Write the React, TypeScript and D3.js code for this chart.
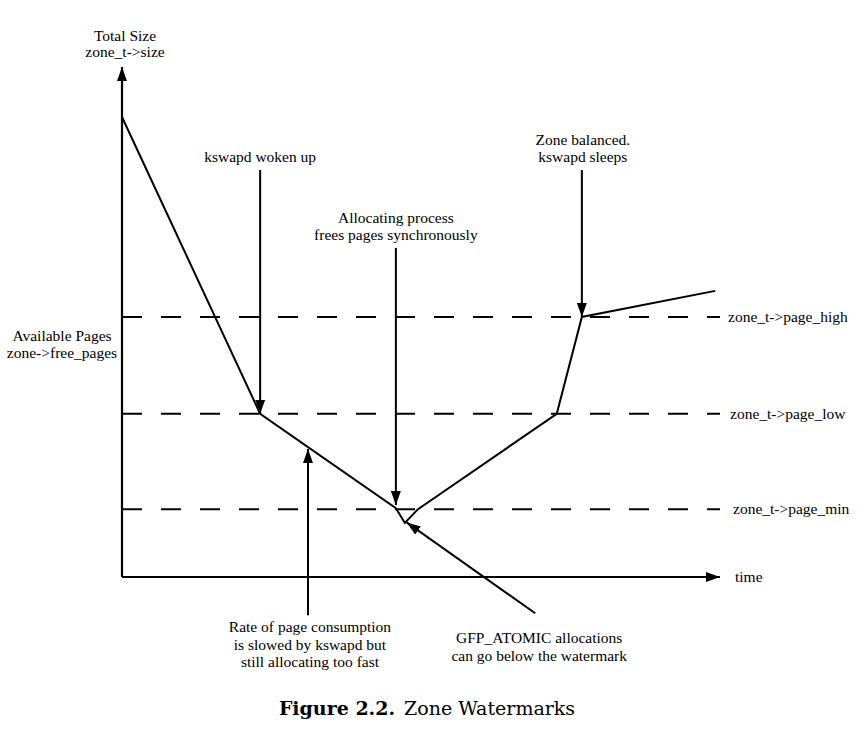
import React from "react";
import * as d3 from "d3";

// time (0..100) vs available pages (0..100, total size ~90)
const curveTime = [0, 23.1, 45.8, 47.3, 49.5, 72.7, 76.9, 99.2];
const curvePages = [90.2, 32, 13.5, 10.6, 13.3, 32, 51, 56.1];

const watermarkNames = ["zone_t->page_high", "zone_t->page_low", "zone_t->page_min"];
const watermarkValues = [51, 32, 13.3];

// annotation arrows: [fromTime, fromPages, toTime, toPages]
const arrowFromTime = [23.1, 45.8, 76.9, 31.1, 69.1];
const arrowFromPages = [79.8, 64.5, 79.8, -7.5, -7.1];
const arrowToTime = [23.1, 45.8, 76.9, 31.1, 47.6];
const arrowToPages = [32, 14.1, 51, 25.1, 10.7];
const arrowLabels = [
  ["kswapd woken up"],
  ["Allocating process", "frees pages synchronously"],
  ["Zone balanced.", "kswapd sleeps"],
  ["Rate of page consumption", "is slowed by kswapd but", "still allocating too fast"],
  ["GFP_ATOMIC allocations", "can go below the watermark"],
];

const yAxisLabel = ["Total Size", "zone_t->size"];
const sideLabel = ["Available Pages", "zone->free_pages"];
const xAxisLabel = "time";
const captionBold = "Figure 2.2.";
const captionText = "Zone Watermarks";

const W = 858;
const H = 733;
const FONT = "'Liberation Serif', 'Times New Roman', serif";

export default function App() {
  const x = d3.scaleLinear().domain([0, 100]).range([122, 720]);
  const y = d3.scaleLinear().domain([0, 100]).range([577, 67]);

  const pts: [number, number][] = curveTime.map((t, i) => [t, curvePages[i]]);
  const line = d3
    .line<[number, number]>()
    .x((d) => x(d[0]))
    .y((d) => y(d[1]));

  const fs = 15.5;
  const lh = 17.5;

  const labelPos = (i: number) => {
    const fx = x(arrowFromTime[i]);
    const fy = y(arrowFromPages[i]);
    const n = arrowLabels[i].length;
    if (i === 3) return { cx: fx + 2, by: fy + 17 };
    if (i === 4) return { cx: fx + 4, by: fy + 30 };
    return { cx: fx + (i === 2 ? 1 : 0), by: fy - 8 - (n - 1) * lh };
  };

  return (
    <svg width={W} height={H} style={{ display: "block", position: "absolute", left: 0, top: 0, background: "#fff" }}>
      <defs>
        <marker
          id="ah"
          markerUnits="userSpaceOnUse"
          viewBox="0 0 14 10"
          refX={14}
          refY={5}
          markerWidth={14}
          markerHeight={10}
          orient="auto"
        >
          <path d="M0,0 L14,5 L0,10 Z" fill="#000" />
        </marker>
      </defs>
      <rect width={W} height={H} fill="#fff" />

      {/* axes */}
      <line x1={x(0)} y1={y(0)} x2={x(0)} y2={y(100)} stroke="#000" strokeWidth={2.2} markerEnd="url(#ah)" />
      <line x1={x(0)} y1={y(0)} x2={x(100)} y2={y(0)} stroke="#000" strokeWidth={2.2} markerEnd="url(#ah)" />

      {/* watermarks */}
      {watermarkValues.map((v, i) => (
        <g key={i}>
          <line
            x1={x(0)}
            x2={x(100)}
            y1={y(v)}
            y2={y(v)}
            stroke="#000"
            strokeWidth={2}
            strokeDasharray="20 19"
          />
          <text
            x={x(100) + 8 + (i === 2 ? 5 : i === 1 ? 2 : 0)}
            y={y(v) + 5}
            fontFamily={FONT}
            fontSize={fs}
          >
            {watermarkNames[i]}
          </text>
        </g>
      ))}

      {/* curve */}
      <path d={line(pts) || ""} fill="none" stroke="#000" strokeWidth={2} strokeLinejoin="miter" />

      {/* annotation arrows */}
      {arrowLabels.map((lines, i) => {
        const p = labelPos(i);
        return (
          <g key={i}>
            <line
              x1={x(arrowFromTime[i])}
              y1={y(arrowFromPages[i])}
              x2={x(arrowToTime[i])}
              y2={y(arrowToPages[i])}
              stroke="#000"
              strokeWidth={2}
              markerEnd="url(#ah)"
            />
            <text fontFamily={FONT} fontSize={fs} textAnchor="middle">
              {lines.map((s, j) => (
                <tspan key={j} x={p.cx} y={p.by + j * lh}>
                  {s}
                </tspan>
              ))}
            </text>
          </g>
        );
      })}

      {/* axis labels */}
      <text fontFamily={FONT} fontSize={fs} textAnchor="middle">
        {yAxisLabel.map((s, j) => (
          <tspan key={j} x={x(0) + 3} y={41 + j * 16}>
            {s}
          </tspan>
        ))}
      </text>
      <text fontFamily={FONT} fontSize={fs} textAnchor="middle">
        {sideLabel.map((s, j) => (
          <tspan key={j} x={62} y={y(51) + 24 + j * 17}>
            {s}
          </tspan>
        ))}
      </text>
      <text x={x(100) + 15} y={y(0) + 5} fontFamily={FONT} fontSize={fs}>
        {xAxisLabel}
      </text>

      {/* caption */}
      <text x={427} y={715} textAnchor="middle" fontFamily="'DejaVu Serif', serif" fontSize={19}>
        <tspan fontWeight="bold">{captionBold}</tspan>
        <tspan dx={9}>{captionText}</tspan>
      </text>
    </svg>
  );
}
